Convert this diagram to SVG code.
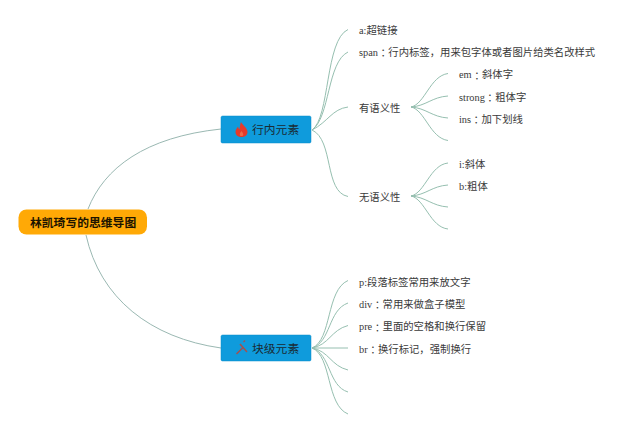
<svg xmlns="http://www.w3.org/2000/svg" width="640" height="433" viewBox="0 0 640 433">
<style>
.c{fill:none;stroke:#96bfb0;stroke-width:1}
.r{fill:none;stroke:#9ab8b2;stroke-width:1}
text{font-family:"Liberation Serif","Noto Sans CJK SC",serif;fill:#3a3a3a;dominant-baseline:central}
.t{font-size:10.35px}
.k{font-family:"Noto Sans CJK TC",sans-serif}
.h{font-family:"Liberation Sans","Noto Sans CJK SC",sans-serif;font-size:11.8px;fill:#1a2a33}
.b{fill:#0f9bdc;stroke:#0a8cc8;stroke-width:.5}
</style>
<rect width="640" height="433" fill="#fff"/>
<g id="connectors">
<path class="r" d="M88 209C104 168 145 137 221 129"/>
<path class="r" d="M86 235C100 298 150 338 221 348"/>
<path class="c" d="M312 130C330 118 325 40 348 29.500"/>
<path class="c" d="M312 130C330 118 327 62 348 52"/>
<path class="c" d="M312 130C328 122 332 109 348 107"/>
<path class="c" d="M312 130C334 140 324 192 348 196.500"/>
<path class="c" d="M411 107C425 104 430 76 448 73.500"/>
<path class="c" d="M411 107C426 106 432 97 448 96"/>
<path class="c" d="M411 107C426 108 432 117 448 118"/>
<path class="c" d="M411 107C425 110 430 138 448 140.500"/>
<path class="c" d="M411 196C425 193 430 165 448 163"/>
<path class="c" d="M411 196C426 195 432 186 448 185"/>
<path class="c" d="M411 196C426 197 432 206 448 207"/>
<path class="c" d="M411 196C425 199 430 227 448 229"/>
<path class="c" d="M312 348C332 340 326 290 348 280.500"/>
<path class="c" d="M312 348C331 342 328 310 348 303"/>
<path class="c" d="M312 348C329 345 331 330 348 325.500"/>
<path class="c" d="M312 348H348"/>
<path class="c" d="M312 348C329 351 331 366 348 370"/>
<path class="c" d="M312 348C331 354 328 386 348 392"/>
<path class="c" d="M312 348C332 356 326 405 348 414"/>
</g>
<g id="root">
<rect x="18.500" y="209.500" width="128.500" height="25" rx="8" fill="#ffa906"/>
<text x="30" y="222.500" class="h" style="font-weight:700;fill:#1c1400">林凯琦写的思维导图</text>
</g>
<g id="node-inline">
<rect class="b" x="221" y="116" width="90" height="27" rx="1.500"/>
<path fill="#e53a2a" d="M241 122C242.500 125 247.500 128 247.500 132C247.500 135 245 137 241.500 137C238 137 235.500 135 235.500 132C235.500 129.500 237 128 238 126.500C238.300 128 238.800 129 239.500 129.300C240 127 240 124.500 241 122Z"/>
<path fill="#ef6a4a" d="M241.500 131C240.500 132.500 239.800 133.300 239.800 134.500C239.800 135.500 240.500 136 241.500 136C242.500 136 243.300 135.500 243.300 134.500C243.300 133.300 242.300 132.500 241.500 131Z"/>
<text x="252" y="130" class="h">行内元素</text>
</g>
<g id="node-block">
<rect class="b" x="221" y="335" width="90" height="26" rx="1.500"/>
<path fill="none" stroke="#a8504c" stroke-width="1.500" d="M236.500 354L243 347.500M240 344L247 352"/>
<path fill="none" stroke="#a8504c" stroke-width="1.200" d="M243.500 342L245 340.500"/>
<text x="252" y="348.500" class="h">块级元素</text>
</g>
<g id="label-a"><text class="t" x="359" y="30">a:超链接</text></g>
<g id="label-span"><text class="t" x="359" y="52">span<tspan class="k">：</tspan>行内标签，用来包字体或者图片给类名改样式</text></g>
<g id="label-sem"><text class="t" x="359" y="108">有语义性</text></g>
<g id="label-em"><text class="t" x="459" y="74.500">em<tspan class="k">：</tspan>斜体字</text></g>
<g id="label-strong"><text class="t" x="459" y="97">strong<tspan class="k">：</tspan>粗体字</text></g>
<g id="label-ins"><text class="t" x="459" y="119">ins<tspan class="k">：</tspan>加下划线</text></g>
<g id="label-nonsem"><text class="t" x="359" y="197">无语义性</text></g>
<g id="label-i"><text class="t" x="459" y="164">i:斜体</text></g>
<g id="label-b"><text class="t" x="459" y="186">b:粗体</text></g>
<g id="label-p"><text class="t" x="359" y="282">p:段落标签常用来放文字</text></g>
<g id="label-div"><text class="t" x="359" y="304">div<tspan class="k">：</tspan>常用来做盒子模型</text></g>
<g id="label-pre"><text class="t" x="359" y="326.500">pre<tspan class="k">：</tspan>里面的空格和换行保留</text></g>
<g id="label-br"><text class="t" x="359" y="349">br<tspan class="k">：</tspan>换行标记，强制换行</text></g>
</svg>
